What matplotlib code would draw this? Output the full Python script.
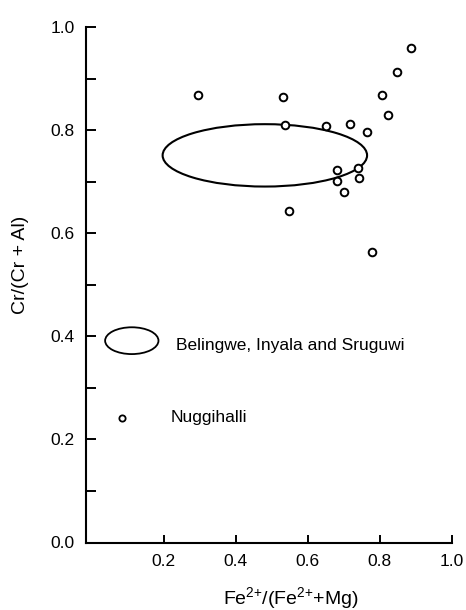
import numpy as np
import matplotlib
matplotlib.use("Agg")
import matplotlib.pyplot as plt
from matplotlib.patches import Ellipse

plt.rcParams['font.family'] = ['Liberation Sans', 'DejaVu Sans']
plt.rcParams['mathtext.fontset'] = 'custom'
plt.rcParams['mathtext.rm'] = 'Liberation Sans'
plt.rcParams['mathtext.it'] = 'Liberation Sans'

# Nuggihalli spinels, Fe2+/(Fe2+ + Mg) vs Cr/(Cr + Al)
nug_x = [0.296, 0.530, 0.887, 0.847, 0.807, 0.822, 0.537, 0.650, 0.718,
         0.764, 0.682, 0.738, 0.682, 0.743, 0.700, 0.547, 0.777]
nug_y = [0.868, 0.864, 0.960, 0.912, 0.868, 0.830, 0.810, 0.807, 0.812,
         0.796, 0.722, 0.726, 0.702, 0.707, 0.679, 0.643, 0.564]

# field of Belingwe, Inyala and Sruguwi (centre, width, height)
field_c = (0.481, 0.751)
field_w = 0.567
field_h = 0.121

xticks = [0.2, 0.4, 0.6, 0.8, 1.0]
yticks = [0.0, 0.2, 0.4, 0.6, 0.8, 1.0]
yminor = [0.1, 0.3, 0.5, 0.7, 0.9]

fig = plt.figure(figsize=(4.66, 6.10), dpi=100)
ax = fig.add_axes([86/466, 1 - 542.5/610, (452 - 86)/466, (542.5 - 27)/610])

ax.add_patch(Ellipse(field_c, field_w, field_h, fill=False, ec='black', lw=1.5))
ax.plot(nug_x, nug_y, 'o', mfc='white', mec='black', ms=5.5, mew=1.4, ls='none')

# legend drawn by hand inside the axes
ax.add_patch(Ellipse((0.112, 0.3915), 0.148, 0.052, fill=False, ec='black', lw=1.3))
ax.text(0.235, 0.383, 'Belingwe, Inyala and Sruguwi', fontsize=12.5, va='center')
ax.plot([0.086], [0.242], 'o', mfc='white', mec='black', ms=4.5, mew=1.3)
ax.text(0.22, 0.242, 'Nuggihalli', fontsize=12.5, va='center')

ax.set_xlim(-0.015, 1.0)
ax.set_ylim(0.0, 1.0)
ax.set_xticks(xticks)
ax.set_xticklabels(['%.1f' % v for v in xticks])
ax.set_yticks(yticks)
ax.set_yticklabels(['%.1f' % v for v in yticks])
ax.set_yticks(yminor, minor=True)

for s in ['top', 'right']:
    ax.spines[s].set_visible(False)
for s in ['left', 'bottom']:
    ax.spines[s].set_linewidth(1.5)

ax.tick_params(axis='y', which='both', direction='in', length=7.5, width=1.4,
               labelsize=12.5, pad=8)
ax.tick_params(axis='x', which='both', direction='in', length=6, width=1.4,
               labelsize=12.5, pad=8)

fig.text(291/466, 1 - 598/610, r'Fe$^{2{+}}$/(Fe$^{2{+}}$+Mg)', fontsize=14,
         ha='center', va='center')
fig.text(21/466, 1 - 265/610, 'Cr/(Cr + Al)', fontsize=14, rotation=90,
         ha='center', va='center')

fig.savefig('out.png', dpi=100)
